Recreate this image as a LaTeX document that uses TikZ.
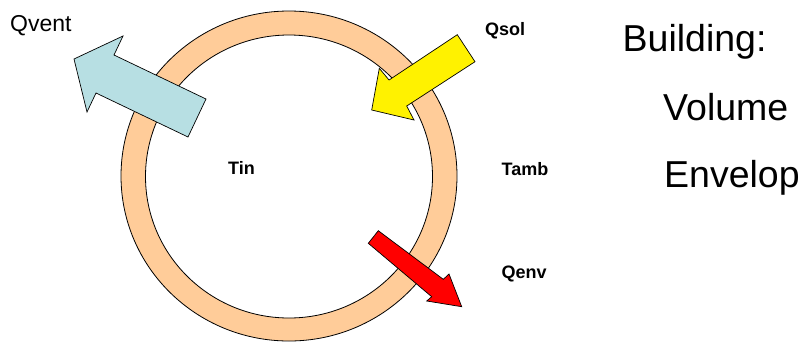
\documentclass[tikz,border=0pt]{standalone}
\usepackage{fontspec}
\setmainfont{Liberation Sans}
\definecolor{peach}{HTML}{FFCC99}
\definecolor{ventblue}{HTML}{B7DFE3}
\begin{document}
\begin{tikzpicture}[x=1pt,y=-1pt,
  ringfill/.style={fill=peach,draw=black,line width=0.8pt,even odd rule},
  blockarrow/.style={draw=black,line width=0.7pt,line join=miter},
  smalllabel/.style={font=\fontsize{18}{20}\selectfont\bfseries,anchor=base west,inner sep=0pt},
  biglabel/.style={font=\fontsize{37.5}{40}\selectfont,anchor=base west,inner sep=0pt},
  ventlabel/.style={font=\fontsize{23}{25}\selectfont,anchor=base west,inner sep=0pt}]
\useasboundingbox (0,0) rectangle (806,341);
% ring
\path[ringfill] (289,176) ellipse [x radius=168,y radius=165]
                (289,176.5) ellipse [x radius=143.5,y radius=141.5];
% Qvent arrow (light blue)
\draw[blockarrow,fill=ventblue] (74,59) -- (123,36) -- (114,55) -- (206,99) -- (188,137) -- (96,93) -- (87,112) -- cycle;
% Qsol arrow (yellow)
\draw[blockarrow,fill=yellow] (457.3,34.7) -- (475,61.7) -- (406.7,106) -- (414,120) -- (371.7,110) -- (379.3,68.3) -- (389,80) -- cycle;
% Qenv arrow (red)
\draw[blockarrow,fill=red] (378.3,230.7) -- (443.3,279.3) -- (449,274) -- (461.7,306.7) -- (426.7,301) -- (431.7,296.7) -- (368.3,243.3) -- cycle;
% labels
\node[ventlabel] (qvent) at (10,31.5) {Qvent};
\node[smalllabel] (qsol) at (485,35) {Qsol};
\node[smalllabel] (tin) at (228,174.3) {Tin};
\node[smalllabel] (tamb) at (501.5,175) {Tamb};
\node[smalllabel] (qenv) at (501.5,278.5) {Qenv};
\node[biglabel] (building) at (622.5,51) {Building:};
\node[biglabel] (volume) at (663,120.5) {Volume};
\node[biglabel] (envelop) at (664,187.5) {Envelop};
\end{tikzpicture}
\end{document}
